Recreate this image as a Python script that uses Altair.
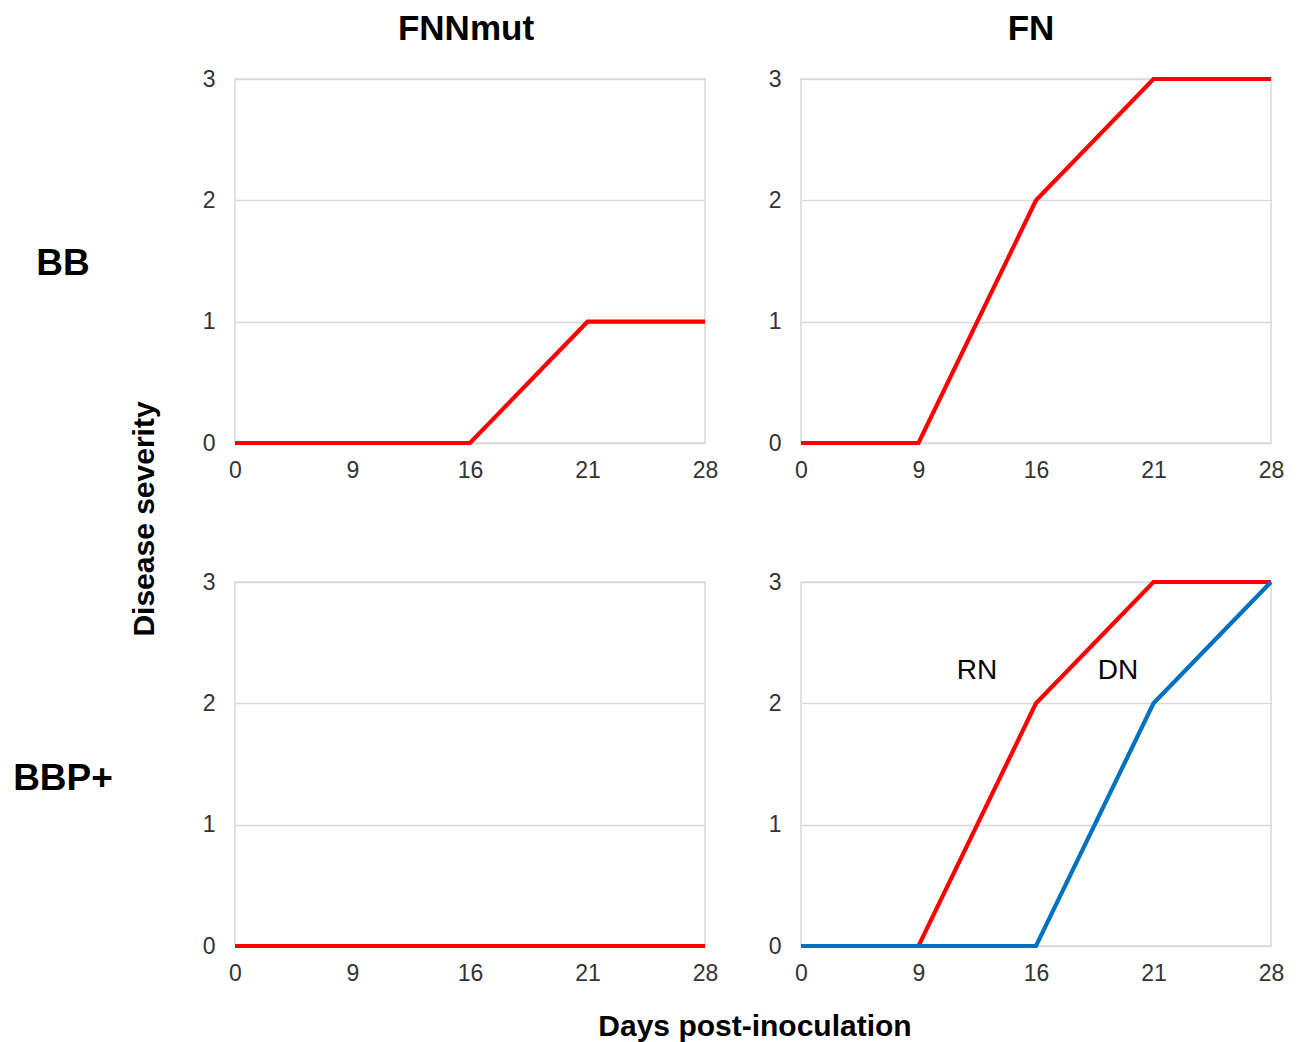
import altair as alt
import pandas as pd

# ---- data ----
days = ["0", "9", "16", "21", "28"]
bb_fnnmut = [0, 0, 0, 1, 1]
bb_fn = [0, 0, 2, 3, 3]
bbp_fnnmut = [0, 0, 0, 0, 0]
bbp_fn_rn = [0, 0, 2, 3, 3]
bbp_fn_dn = [0, 0, 0, 2, 3]
col_titles = ["FNNmut", "FN"]
row_titles = ["BB", "BBP+"]
series_labels = ["RN", "DN"]
y_ticks = [0, 1, 2, 3]
x_title = "Days post-inoculation"
y_title = "Disease severity"

RED = "#FF0000"
BLUE = "#0070C0"
W, H = 470, 364
FONT = "Liberation Sans"

x_enc = alt.X(
    "day:O",
    sort=days,
    scale=alt.Scale(padding=0),
    axis=alt.Axis(title=None, labelAngle=0, labelPadding=16, grid=False),
)
y_enc = alt.Y(
    "value:Q",
    scale=alt.Scale(domain=[0, 3], nice=False),
    axis=alt.Axis(title=None, values=y_ticks, labelPadding=20, grid=True),
)


def line_layer(values, color):
    df = pd.DataFrame({"day": days, "value": values})
    return alt.Chart(df).mark_line(color=color, strokeWidth=4.2).encode(x=x_enc, y=y_enc)


def text_layer(txt, x, y, size, bold=True, angle=None):
    df = pd.DataFrame({"t": [txt]})
    kw = dict(
        fontSize=size,
        fontWeight="bold" if bold else "normal",
        font=FONT,
        color="black",
        align="center",
        baseline="middle",
    )
    if angle is not None:
        kw["angle"] = angle
    return alt.Chart(df).mark_text(**kw).encode(
        text="t:N", x=alt.value(x), y=alt.value(y)
    )


p_tl = alt.layer(
    line_layer(bb_fnnmut, RED),
    text_layer(col_titles[0], 231, -50, 35),
    text_layer(row_titles[0], -172, 185, 37),
    text_layer(y_title, -90, 440, 30, angle=270),
).properties(width=W, height=H)

p_tr = alt.layer(
    line_layer(bb_fn, RED),
    text_layer(col_titles[1], 230, -50, 35),
).properties(width=W, height=H)

p_bl = alt.layer(
    line_layer(bbp_fnnmut, RED),
    text_layer(row_titles[1], -172, 197, 37),
    text_layer(x_title, 520, 445, 30),
).properties(width=W, height=H)

p_br = alt.layer(
    line_layer(bbp_fn_rn, RED),
    line_layer(bbp_fn_dn, BLUE),
    text_layer(series_labels[0], 176, 89, 28, bold=False),
    text_layer(series_labels[1], 317, 89, 28, bold=False),
).properties(width=W, height=H)

chart = (
    alt.concat(p_tl, p_tr, p_bl, p_br, columns=2, spacing={"row": 139, "column": 96}, bounds="flush")
    .properties(padding={"left": 4, "top": 3, "right": 5, "bottom": 3})
    .configure_view(stroke="#d9d9d9", strokeWidth=1.5)
    .configure_axis(
        gridColor="#d9d9d9",
        gridWidth=1.5,
        domain=False,
        ticks=False,
        labelFont=FONT,
        labelFontSize=23,
        labelColor="#333333",
    )
)

chart.save("out.html", embed_options={"renderer": "svg", "actions": False})
